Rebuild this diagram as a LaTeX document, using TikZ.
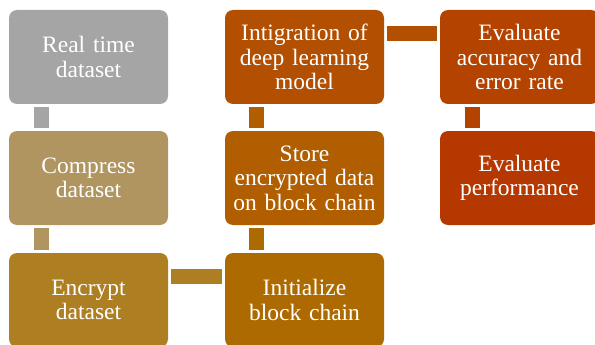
\documentclass[tikz,border=0pt]{standalone}
\usepackage{fontspec}
\setmainfont{Liberation Serif}
\definecolor{cA}{HTML}{A5A5A5}
\definecolor{cB}{HTML}{B09560}
\definecolor{cC}{HTML}{AE7F22}
\definecolor{cD}{HTML}{AD6A00}
\definecolor{cE}{HTML}{B05E00}
\definecolor{cF}{HTML}{B24F00}
\definecolor{cG}{HTML}{B44300}
\definecolor{cH}{HTML}{B53800}
\tikzset{
  stepbox/.style={fill=#1, draw=none, rounded corners=8pt,
    minimum width=159pt, minimum height=94pt, inner sep=0pt,
    text width=155pt, align=center, text=white,
    font=\fontsize{23.5}{24.5}\selectfont},
  link/.style={draw=#1, line width=15pt, line cap=butt,
    shorten <=3pt, shorten >=3pt}
}
\begin{document}
\begin{tikzpicture}[x=1pt, y=-1pt]
  \useasboundingbox (0,0) rectangle (595,345);
  % process steps
  \node[stepbox=cA] (real)  at (88.5,57)  {Real time\\dataset};
  \node[stepbox=cB] (comp)  at (88.5,178) {Compress\\dataset};
  \node[stepbox=cC] (encr)  at (88.5,300) {Encrypt\\dataset};
  \node[stepbox=cD] (init)  at (304.5,300) {Initialize\\block chain};
  \node[stepbox=cE] (store) at (304.5,178) {Store\\encrypted data\\on block chain};
  \node[stepbox=cF] (integ) at (304.5,57)  {Intigration of\\deep learning\\model};
  \node[stepbox=cG] (acc)   at (519.5,57)  {Evaluate\\accuracy and\\error rate};
  \node[stepbox=cH] (perf)  at (519.5,178) {Evaluate\\performance};
  % connecting bars
  \draw[link=cA] ([xshift=32.5pt]real.south west) -- ([xshift=32.5pt]comp.north west);
  \draw[link=cB] ([xshift=32.5pt]comp.south west) -- ([xshift=32.5pt]encr.north west);
  \draw[link=cC] ([yshift=-23.5pt]encr.north east) -- ([yshift=-23.5pt]init.north west);
  \draw[link=cD] ([xshift=31.5pt]init.north west) -- ([xshift=31.5pt]store.south west);
  \draw[link=cE] ([xshift=31.5pt]store.north west) -- ([xshift=31.5pt]integ.south west);
  \draw[link=cF] ([yshift=-23.5pt]integ.north east) -- ([yshift=-23.5pt]acc.north west);
  \draw[link=cG] ([xshift=32.5pt]acc.south west) -- ([xshift=32.5pt]perf.north west);
\end{tikzpicture}
\end{document}
